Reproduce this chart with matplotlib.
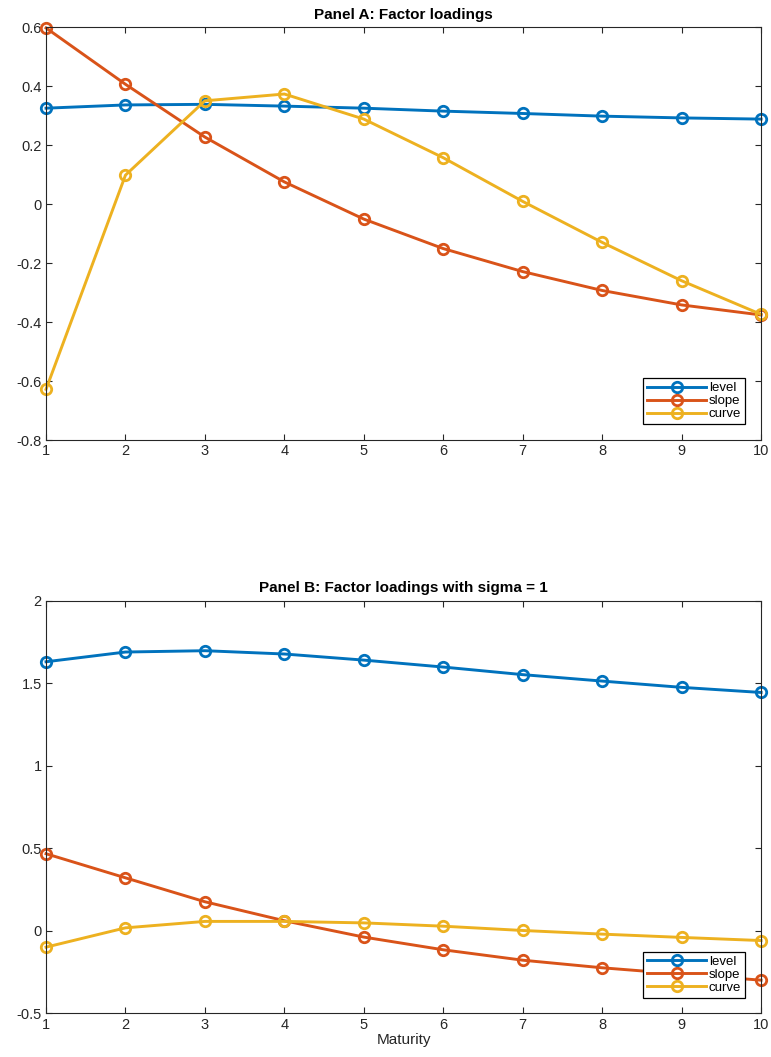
import matplotlib
matplotlib.use("Agg")
import matplotlib.pyplot as plt
import numpy as np

plt.rcParams['font.family'] = ['Liberation Sans', 'DejaVu Sans']

maturity = np.arange(1, 11)

# Panel A: factor loadings
levelA = [0.325, 0.336, 0.338, 0.332, 0.325, 0.315, 0.307, 0.298, 0.292, 0.288]
slopeA = [0.597, 0.406, 0.227, 0.075, -0.051, -0.151, -0.229, -0.293, -0.342, -0.376]
curveA = [-0.628, 0.098, 0.350, 0.373, 0.288, 0.157, 0.009, -0.130, -0.260, -0.374]

# Panel B: factor loadings with sigma = 1
levelB = [1.630, 1.689, 1.697, 1.677, 1.640, 1.598, 1.552, 1.513, 1.475, 1.444]
slopeB = [0.467, 0.321, 0.176, 0.061, -0.038, -0.115, -0.178, -0.224, -0.262, -0.299]
curveB = [-0.099, 0.018, 0.057, 0.057, 0.048, 0.028, 0.002, -0.020, -0.040, -0.059]

names = ['level', 'slope', 'curve']
colors = ['#0072BD', '#D95319', '#EDB120']
dark = '#262626'

fig = plt.figure(figsize=(7.71, 10.57), dpi=100)
axA = fig.add_axes([0.0597, 0.5837, 0.9274, 0.3907])
axB = fig.add_axes([0.0597, 0.0413, 0.9274, 0.3904])


def draw(ax, series, title, ylim, yticks, yticklabels):
    for s, c, n in zip(series, colors, names):
        ax.plot(maturity, s, color=c, lw=2.1, marker='o', ms=7.5,
                mfc='none', mew=2.0, label=n, clip_on=False)
    ax.set_xlim(1, 10)
    ax.set_ylim(*ylim)
    ax.set_xticks(maturity)
    ax.set_yticks(yticks)
    ax.set_yticklabels(yticklabels)
    ax.tick_params(direction='in', top=True, right=True, length=4,
                   width=0.8, labelsize=10.5, colors=dark, pad=3)
    for sp in ax.spines.values():
        sp.set_color(dark)
        sp.set_linewidth(0.8)
    ax.set_title(title, fontsize=11, fontweight='bold', pad=6)
    leg = ax.legend(loc='lower right', fontsize=9.5, handlelength=4.5,
                    labelspacing=0.05, borderpad=0.3, handletextpad=0.2,
                    borderaxespad=1.2, fancybox=False, framealpha=1,
                    edgecolor='black')
    leg.get_frame().set_linewidth(0.9)
    leg.set_zorder(5)


draw(axA, [levelA, slopeA, curveA], 'Panel A: Factor loadings',
     (-0.8, 0.6), np.arange(-0.8, 0.61, 0.2),
     ['-0.8', '-0.6', '-0.4', '-0.2', '0', '0.2', '0.4', '0.6'])
draw(axB, [levelB, slopeB, curveB], 'Panel B: Factor loadings with sigma = 1',
     (-0.5, 2), [-0.5, 0, 0.5, 1, 1.5, 2],
     ['-0.5', '0', '0.5', '1', '1.5', '2'])
axB.set_xlabel('Maturity', fontsize=11, color=dark, labelpad=1)

fig.savefig('out.png', dpi=100)
